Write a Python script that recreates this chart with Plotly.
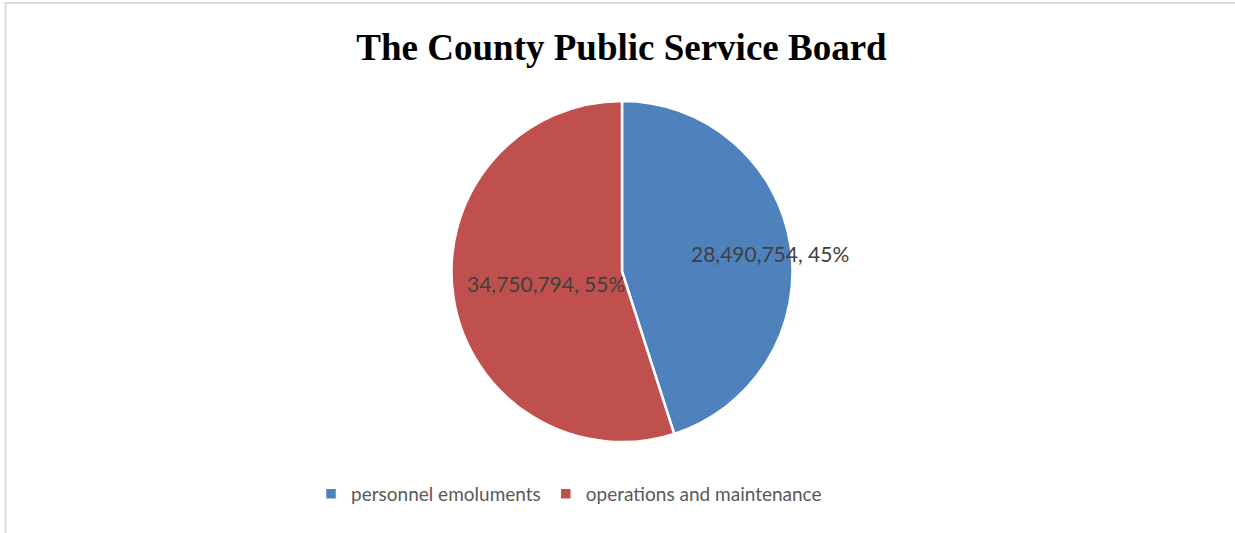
import math
import plotly.graph_objects as go

# Budget split for the board
categories = ["personnel emoluments", "operations and maintenance"]
amounts = [28490754, 34750794]
colors = ["#4F81BD", "#C0504D"]

W, H = 1235, 533
CX, CY, R = 622, 271.5, 170.5          # pie centre / radius in pixels
label_radius = [0.88, 0.45]            # radial position of each data label
label_yshift = [-5, 0]                 # small vertical nudges for the labels

fig = go.Figure(
    go.Pie(
        labels=categories,
        values=amounts,
        marker=dict(colors=colors, line=dict(color="white", width=2.5)),
        sort=False,
        direction="clockwise",
        rotation=0,
        textinfo="none",
        hoverinfo="label+value+percent",
        domain=dict(x=[(CX - R) / W, (CX + R) / W], y=[1 - (CY + R) / H, 1 - (CY - R) / H]),
    )
)

# data labels "value, pct%" placed along each slice's bisector
total = sum(amounts)
start = 0.0
annotations = []
for v, frac, ys in zip(amounts, label_radius, label_yshift):
    share = v / total
    mid = (start + share / 2) * 2 * math.pi
    start += share
    px = CX + frac * R * math.sin(mid)
    py = CY - frac * R * math.cos(mid)
    annotations.append(
        dict(
            x=px / W, y=1 - py / H, xref="paper", yref="paper", yshift=ys,
            text=f"{v:,}, {round(share * 100)}%",
            showarrow=False, xanchor="center", yanchor="middle",
            font=dict(family="Lato", size=21, color="#404040"),
        )
    )

fig.update_layout(
    width=W, height=H,
    margin=dict(l=0, r=0, t=0, b=0),
    paper_bgcolor="white",
    title=dict(
        text="<b>The County Public Service Board</b>",
        x=0.5 + 4 / W, xanchor="center", y=1 - 47 / H, yanchor="middle",
        font=dict(family="Liberation Serif", size=37, color="black"),
    ),
    legend=dict(
        orientation="h", x=311 / W, xanchor="left", y=1 - 494 / H, yanchor="middle",
        font=dict(family="Lato", size=19, color="#595959"),
    ),
    annotations=annotations,
    shapes=[
        dict(type="rect", xref="paper", yref="paper",
             x0=5.5 / W, x1=1.01, y0=-0.01, y1=1 - 3 / H,
             line=dict(color="#D9D9D9", width=2), fillcolor="rgba(0,0,0,0)", layer="below")
    ],
)

fig.write_html("out.html")
